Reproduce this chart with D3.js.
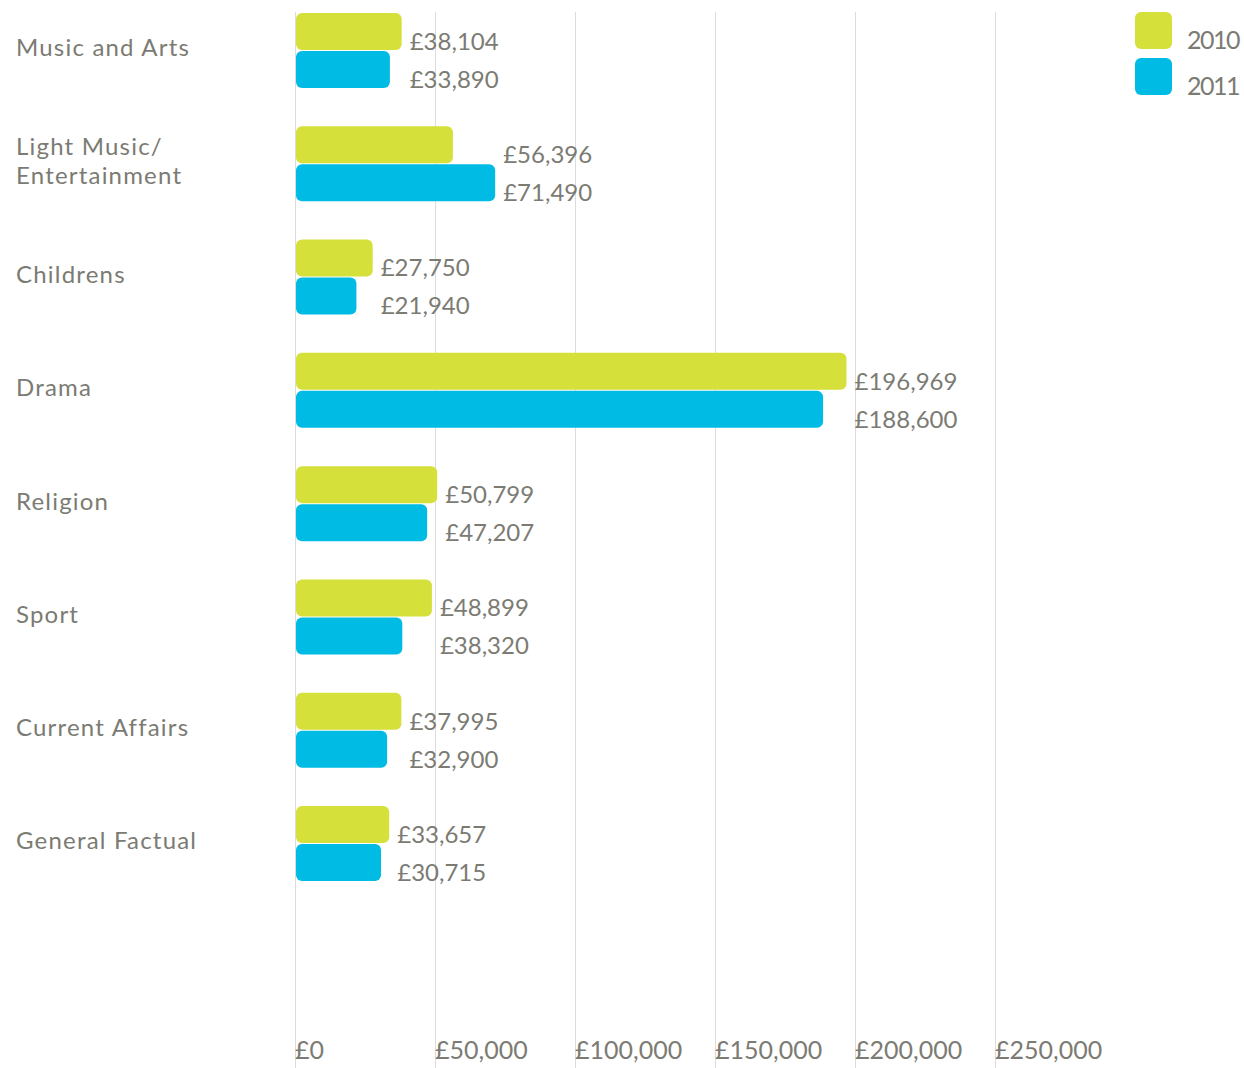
<!DOCTYPE html>
<html><head><meta charset="utf-8">
<script src="https://cdn.jsdelivr.net/npm/d3@7"></script>
<style>
html,body{margin:0;padding:0;background:#fff;}
svg{display:block;}
text{font-family:Lato, "Open Sans", sans-serif;fill:#7b7b73;}
</style></head>
<body>
<svg id="chart" width="1244" height="1068"></svg>
<script>
const categories = ["Music and Arts","Light Music/\nEntertainment","Childrens","Drama","Religion","Sport","Current Affairs","General Factual"];
const values2010 = [38104, 56396, 27750, 196969, 50799, 48899, 37995, 33657];
const values2011 = [33890, 71490, 21940, 188600, 47207, 38320, 32900, 30715];
const seriesNames = ["2010","2011"];
const seriesColors = ["#d5e03b","#00bbe3"];
const tickValues = [0, 50000, 100000, 150000, 200000, 250000];
const tickLabels = ["£0","£50,000","£100,000","£150,000","£200,000","£250,000"];

const svg = d3.select("#chart");
const x = d3.scaleLinear().domain([0, 250000]).range([295, 995]);
const y = d3.scaleBand().domain(categories).range([13, 881]).paddingInner(0.338).paddingOuter(0);
const sub = d3.scaleBand().domain(seriesNames).range([0, y.bandwidth()]).paddingInner(0.027);
const fmt = v => "£" + d3.format(",")(v);

// gridlines
svg.append("g").selectAll("line").data(tickValues).join("line")
  .attr("x1", d => x(d) + 0.5).attr("x2", d => x(d) + 0.5)
  .attr("y1", 12).attr("y2", 1068)
  .attr("stroke", "#dcdcdc").attr("stroke-width", 1);

// axis labels
svg.append("g").selectAll("text").data(tickValues).join("text")
  .attr("x", d => x(d)).attr("y", 1059)
  .attr("font-size", 25)
  .text((d, i) => tickLabels[i]);

const data = categories.map((c, i) => ({cat: c, vals: [values2010[i], values2011[i]]}));

const groups = svg.append("g").selectAll("g").data(data).join("g")
  .attr("transform", d => `translate(0,${y(d.cat)})`);

groups.selectAll("rect").data(d => d.vals.map((v, j) => ({v, s: seriesNames[j], c: seriesColors[j]}))).join("rect")
  .attr("x", x(0) + 1)
  .attr("y", d => sub(d.s))
  .attr("width", d => x(d.v) - x(0) - 1)
  .attr("height", sub.bandwidth())
  .attr("rx", 6).attr("ry", 6)
  .attr("fill", d => d.c);

groups.each(function(d) {
  const g = d3.select(this);
  const lx = x(d3.max(d.vals)) + 8;
  d.vals.forEach((v, j) => {
    g.append("text")
      .attr("x", lx)
      .attr("y", sub(seriesNames[j]) + sub.bandwidth() / 2 + 10)
      .attr("dy", "0.35em")
      .attr("font-size", 24)
      .text(fmt(v));
  });
  const lines = d.cat.split("\n");
  lines.forEach((ln, k) => {
    g.append("text")
      .attr("x", 16)
      .attr("y", y.bandwidth() / 2 - 2.5 + (k - (lines.length - 1) / 2) * 29.5)
      .attr("dy", "0.35em")
      .attr("font-size", 24)
      .attr("letter-spacing", 1.2)
      .text(ln);
  });
});

// legend
const legend = svg.append("g").selectAll("g").data(seriesNames).join("g")
  .attr("transform", (d, i) => `translate(1135,${12 + i * 46})`);
legend.append("rect").attr("width", 37).attr("height", 37).attr("rx", 6).attr("ry", 6)
  .attr("fill", (d, i) => seriesColors[i]);
legend.append("text").attr("x", 52).attr("y", 28).attr("dy", "0.35em").attr("font-size", 25)
  .attr("letter-spacing", -1.5).text(d => d);
</script>
</body></html>
